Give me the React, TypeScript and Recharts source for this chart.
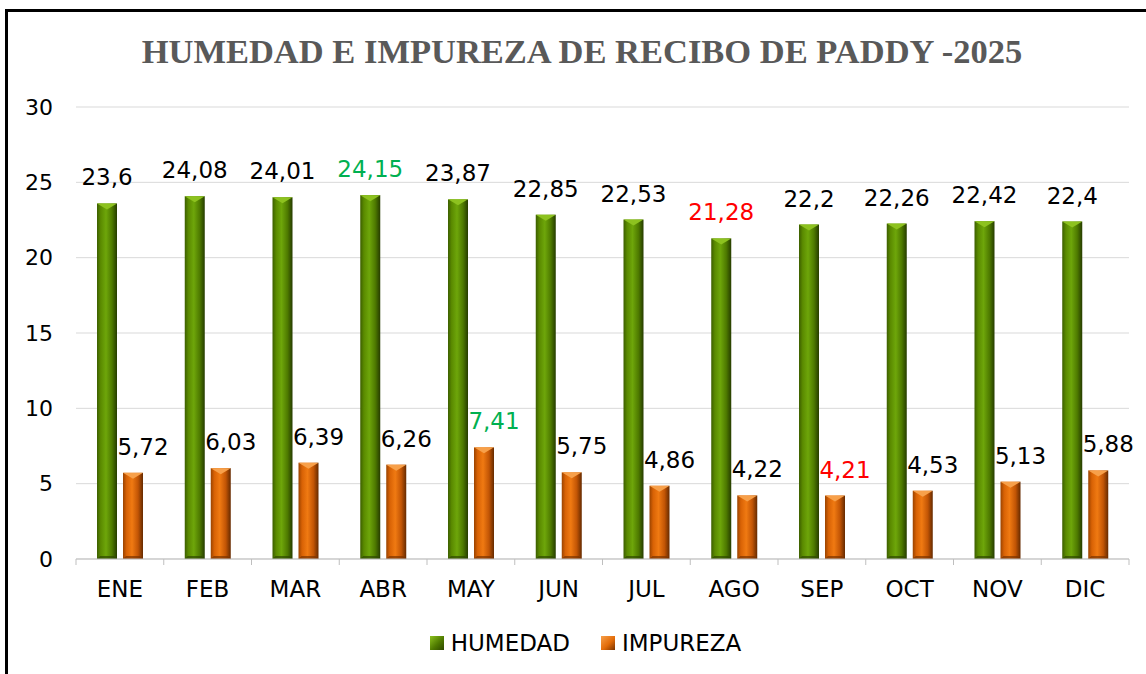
import React from 'react';
import { BarChart, Bar, XAxis, YAxis, CartesianGrid, Legend, LabelList } from 'recharts';

// Months (categories) and the two series
const months: string[] = ['ENE', 'FEB', 'MAR', 'ABR', 'MAY', 'JUN', 'JUL', 'AGO', 'SEP', 'OCT', 'NOV', 'DIC'];
const humedad: number[] = [23.6, 24.08, 24.01, 24.15, 23.87, 22.85, 22.53, 21.28, 22.2, 22.26, 22.42, 22.4];
const impureza: number[] = [5.72, 6.03, 6.39, 6.26, 7.41, 5.75, 4.86, 4.22, 4.21, 4.53, 5.13, 5.88];
const yTicks: number[] = [0, 5, 10, 15, 20, 25, 30];

const data = months.map((m, i) => ({ mes: m, HUMEDAD: humedad[i], IMPUREZA: impureza[i] }));

const FONT = "'DejaVu Sans', sans-serif";

const fmt = (v: number) => String(v).replace('.', ',');

// max value in green, min in red, like the reference
const labelColor = (values: number[], v: number) => {
  if (v === Math.max(...values)) return '#00B050';
  if (v === Math.min(...values)) return '#FF0000';
  return '#000000';
};

// bevelled "3D" bar
const makeShape = (gradId: string, top: string, bottom: string) => (props: any) => {
  const { x, y, width, height } = props;
  if (!height || height <= 0) return null;
  const b = Math.min(width / 2, 6);
  return (
    <g>
      <rect x={x} y={y} width={width} height={height} fill={`url(#${gradId})`} />
      <polygon points={`${x},${y} ${x + width},${y} ${x + width / 2},${y + b}`} fill={top} />
      <polygon
        points={`${x},${y + height} ${x + width},${y + height} ${x + width - 3},${y + height - 3} ${x + 3},${y + height - 3}`}
        fill={bottom}
        opacity={0.7}
      />
    </g>
  );
};

const greenShape = makeShape('gradGreen', '#8DC21F', '#2E4700');
const orangeShape = makeShape('gradOrange', '#F7A04A', '#7A3300');

const makeLabel = (values: number[], dx: number) => (props: any) => {
  const { x, y, width, value } = props;
  return (
    <text
      x={x + width / 2 + dx}
      y={y - 18}
      textAnchor="middle"
      fontFamily={FONT}
      fontSize={23}
      fill={labelColor(values, value)}
    >
      {fmt(value)}
    </text>
  );
};

const XTick = (props: any) => {
  const { x, y, payload, index } = props;
  const off = payload && payload.offset ? payload.offset : 44;
  return (
    <g>
      <line x1={x - off} x2={x - off} y1={y} y2={y + 6} stroke="#BFBFBF" />
      {index === months.length - 1 && <line x1={x + off} x2={x + off} y1={y} y2={y + 6} stroke="#BFBFBF" />}
      <text x={x} y={y + 38} textAnchor="middle" fontFamily={FONT} fontSize={23} fill="#000">
        {payload.value}
      </text>
    </g>
  );
};

const LegendContent = () => (
  <div style={{ display: 'flex', justifyContent: 'center', alignItems: 'center', height: 30, fontFamily: FONT, fontSize: 23, color: '#000', paddingLeft: 42 }}>
    <span style={{ display: 'inline-block', width: 14, height: 14, background: 'linear-gradient(135deg,#8DC21F,#4F7A00 55%,#2E4700)', marginRight: 7 }} />
    <span style={{ marginRight: 31 }}>HUMEDAD</span>
    <span style={{ display: 'inline-block', width: 14, height: 14, background: 'linear-gradient(135deg,#F7A04A,#E36C09 55%,#7A3300)', marginRight: 7 }} />
    <span>IMPUREZA</span>
  </div>
);

export default function App() {
  return (
    <div style={{ position: 'absolute', left: 0, top: 0, width: 1146, height: 674, background: '#fff' }}>
      <div style={{ position: 'absolute', left: 5, top: 9, width: 1141, height: 665, borderLeft: '3px solid #000', borderTop: '3px solid #000', boxSizing: 'border-box' }} />
      <div
        style={{
          position: 'absolute',
          left: 0,
          width: 1164,
          top: 32,
          textAlign: 'center',
          fontFamily: "'Liberation Serif', serif",
          fontWeight: 'bold',
          fontSize: 34.5,
          color: '#595959',
        }}
      >
        HUMEDAD E IMPUREZA DE RECIBO DE PADDY -2025
      </div>
      <div style={{ position: 'absolute', left: 0, top: 0 }}>
        <BarChart
          width={1146}
          height={674}
          data={data}
          margin={{ top: 107, right: 17, left: 0, bottom: 50 }}
          barSize={20}
          barGap={6}
        >
          <defs>
            <linearGradient id="gradGreen" x1="0" y1="0" x2="1" y2="0">
              <stop offset="0%" stopColor="#3C5E00" />
              <stop offset="18%" stopColor="#5A8A00" />
              <stop offset="45%" stopColor="#6EA60A" />
              <stop offset="75%" stopColor="#4E7A00" />
              <stop offset="100%" stopColor="#263C00" />
            </linearGradient>
            <linearGradient id="gradOrange" x1="0" y1="0" x2="1" y2="0">
              <stop offset="0%" stopColor="#9A4300" />
              <stop offset="18%" stopColor="#D86205" />
              <stop offset="45%" stopColor="#F07A12" />
              <stop offset="75%" stopColor="#C25505" />
              <stop offset="100%" stopColor="#652A00" />
            </linearGradient>
          </defs>
          <CartesianGrid vertical={false} stroke="#D9D9D9" />
          <XAxis
            dataKey="mes"
            stroke="#BFBFBF"
            tickLine={false}
            tickSize={0}
            tickMargin={0}
            height={35}
            tick={<XTick />}
            interval={0}
          />
          <YAxis
            width={76}
            domain={[0, 30]}
            ticks={yTicks}
            axisLine={false}
            tickLine={false}
            tickSize={0}
            tickMargin={23}
            tick={{ fontFamily: FONT, fontSize: 22, fill: '#000' }}
          />
          <Legend
            content={<LegendContent />}
            verticalAlign="bottom"
            wrapperStyle={{ top: 628, bottom: 'auto', height: 30 }}
          />
          <Bar dataKey="HUMEDAD" shape={greenShape} isAnimationActive={false}>
            <LabelList dataKey="HUMEDAD" content={makeLabel(humedad, 0)} />
          </Bar>
          <Bar dataKey="IMPUREZA" shape={orangeShape} isAnimationActive={false}>
            <LabelList dataKey="IMPUREZA" content={makeLabel(impureza, 10)} />
          </Bar>
        </BarChart>
      </div>
    </div>
  );
}
